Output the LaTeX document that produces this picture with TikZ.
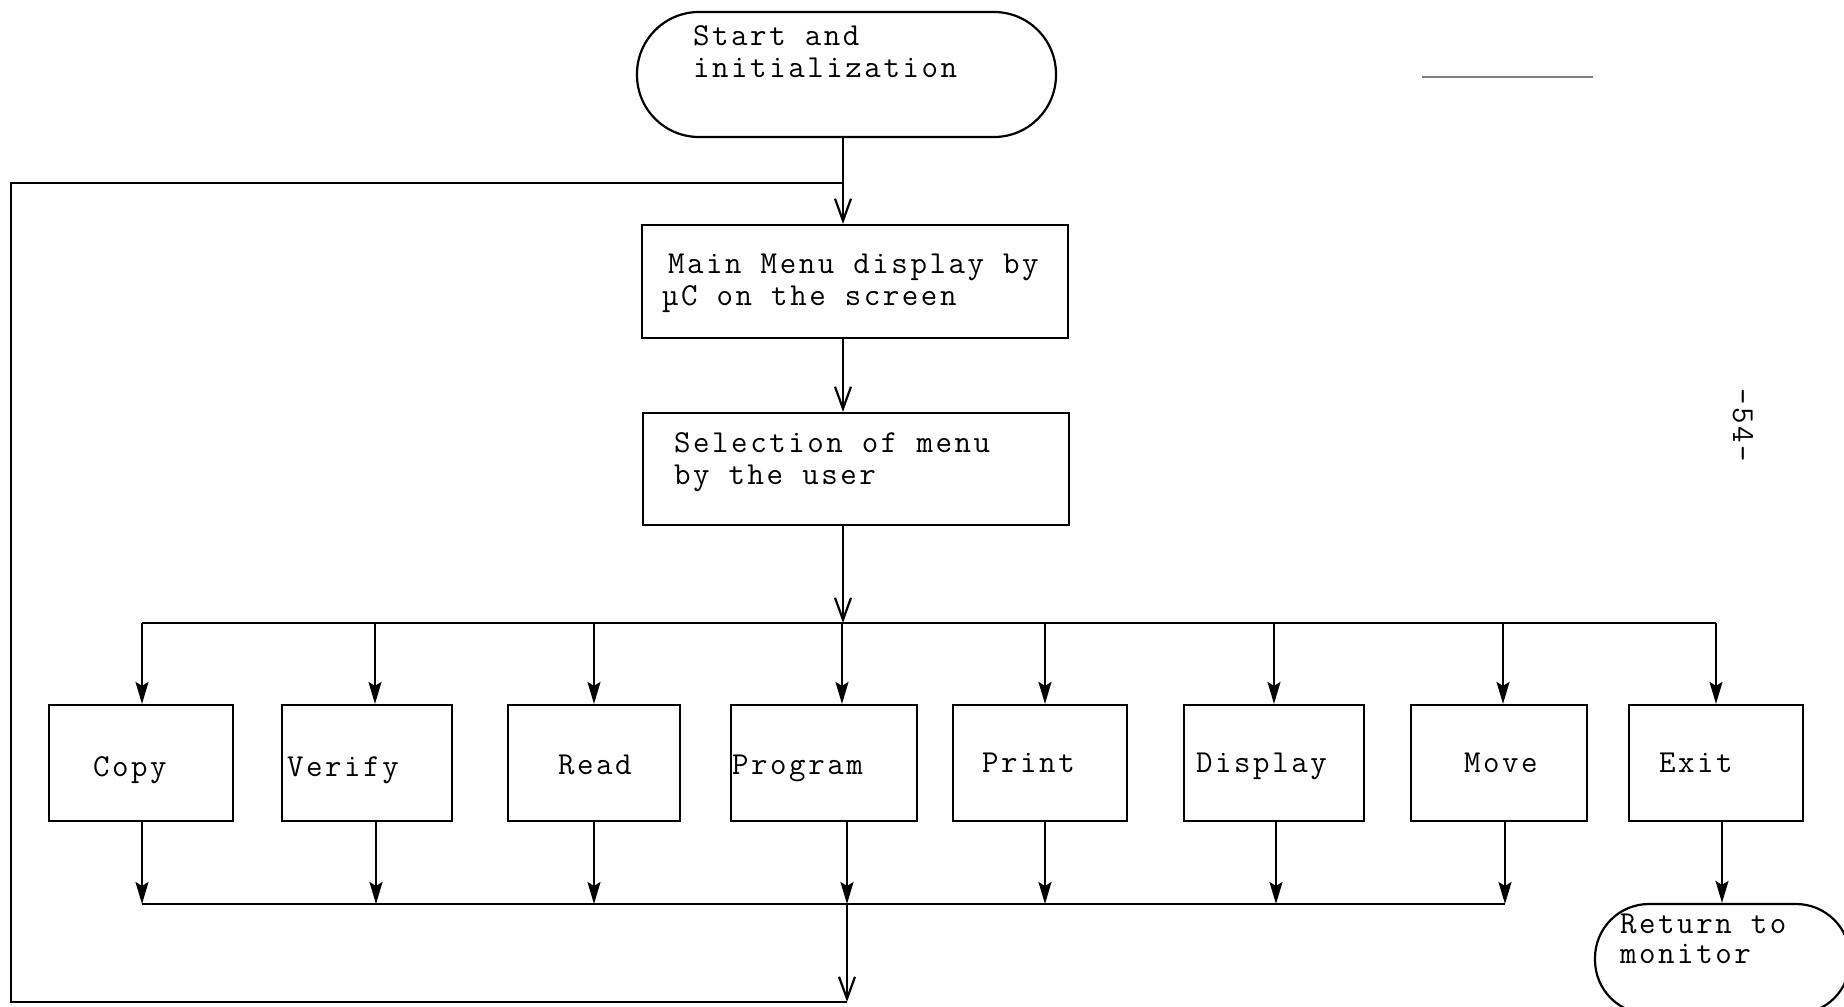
\documentclass[tikz,border=0pt]{standalone}
\usepackage{fontspec}
\newfontfamily\tw{Latin Modern Mono}[LetterSpace=8]
\usetikzlibrary{arrows.meta}
\begin{document}
\begin{tikzpicture}[x=0.5pt,y=-0.5pt, line width=1.1pt,
  box/.style={draw, rectangle, inner sep=0pt},
  term/.style={draw, rectangle, inner sep=0pt},
  txt/.style={anchor=base west, inner sep=0pt, font=\tw\fontsize{16}{16}\selectfont},
  barb/.style={-{Straight Barb[length=11pt,width=8pt]}},
  tip/.style={-{Stealth[length=11pt,width=6.5pt,inset=2pt]}}]
\clip (0,0) rectangle (1844,1007);
\fill[white] (0,0) rectangle (1844,1007);
% shapes
\node[term, minimum width=209.5pt, minimum height=62.5pt, rounded corners=31pt] (start) at (846.5,74.5) {};
\node[box, minimum width=213pt, minimum height=56.5pt] (main) at (855,281.5) {};
\node[box, minimum width=213pt, minimum height=56pt] (sel) at (856,469) {};
\node[box, minimum width=92pt, minimum height=58pt] (copy) at (141,763) {};
\node[box, minimum width=85pt, minimum height=58pt] (verify) at (367,763) {};
\node[box, minimum width=86pt, minimum height=58pt] (read) at (594,763) {};
\node[box, minimum width=93pt, minimum height=58pt] (prog) at (824,763) {};
\node[box, minimum width=87pt, minimum height=58pt] (print) at (1040,763) {};
\node[box, minimum width=90pt, minimum height=58pt] (disp) at (1274,763) {};
\node[box, minimum width=88pt, minimum height=58pt] (move) at (1499,763) {};
\node[box, minimum width=87pt, minimum height=58pt] (exit) at (1716,763) {};
\node[term, minimum width=127.5pt, minimum height=55pt, rounded corners=27pt] (ret) at (1722.5,959) {};
% texts
\node[txt] (t1) at (692,45) {Start and};
\node[txt] (t2) at (692,77) {initialization};
\node[txt] (t3) at (667,273) {Main Menu display by};
\node[txt] (t4) at (661,305) {µC on the screen};
\node[txt] (t5) at (673,452) {Selection of menu};
\node[txt] (t6) at (673,484) {by the user};
\node[txt] (tc) at (92,776) {Copy};
\node[txt] (tv) at (286,776) {Verify};
\node[txt] (tr) at (557,774) {Read};
\node[txt] (tp) at (731,774) {Program};
\node[txt] (tpr) at (981,772) {Print};
\node[txt] (td) at (1195,772) {Display};
\node[txt] (tm) at (1463,772) {Move};
\node[txt] (te) at (1658,772) {Exit};
\node[txt] (tr1) at (1619,933) {Return to};
\node[txt] (tr2) at (1619,963) {monitor};
\node[font=\tw\fontsize{16}{16}\selectfont, rotate=-90, inner sep=0pt] (pg) at (1743,425) {-54-};
% coordinates
\coordinate (spine) at (843,183);
\coordinate (brC) at (843,623);
\coordinate (br1) at (142,623);
\coordinate (br2) at (375,623);
\coordinate (br3) at (594,623);
\coordinate (br4) at (842,623);
\coordinate (br5) at (1045,623);
\coordinate (br6) at (1274,623);
\coordinate (br7) at (1503,623);
\coordinate (br8) at (1716,623);
\coordinate (mg1) at (142,904);
\coordinate (mg2) at (376,904);
\coordinate (mg3) at (594,904);
\coordinate (mg4) at (847,904);
\coordinate (mg5) at (1045,904);
\coordinate (mg6) at (1276,904);
\coordinate (mg7) at (1505,904);
\coordinate (ex) at (1722,904);
\coordinate (ret0) at (847,1002);
\coordinate (retL) at (11,1002);
\coordinate (loopL) at (11,183);
\coordinate (mk1) at (1422,77);
\coordinate (mk2) at (1593,77);
% connectors
\draw (start.south -| spine) -- (spine);
\draw[barb] (spine) -- (main.north -| spine);
\draw[barb] (main.south -| spine) -- (sel.north -| spine);
\draw[barb] (sel.south -| brC) -- (brC);
\draw (br1) -- (br8);
\foreach \b/\n in {br1/copy,br2/verify,br3/read,br4/prog,br5/print,br6/disp,br7/move,br8/exit}
  \draw[tip] (\b) -- (\n.north -| \b);
\foreach \m/\n in {mg1/copy,mg2/verify,mg3/read,mg4/prog,mg5/print,mg6/disp,mg7/move}
  \draw[tip] (\n.south -| \m) -- (\m);
\draw (mg1) -- (mg7);
\draw[tip] (exit.south -| ex) -- (ret.north -| ex);
\draw[barb] (mg4) -- (ret0);
\draw (ret0) -- (retL) -- (loopL) -- (spine);
\draw[line width=0.6pt, gray] (mk1) -- (mk2);
\end{tikzpicture}
\end{document}
